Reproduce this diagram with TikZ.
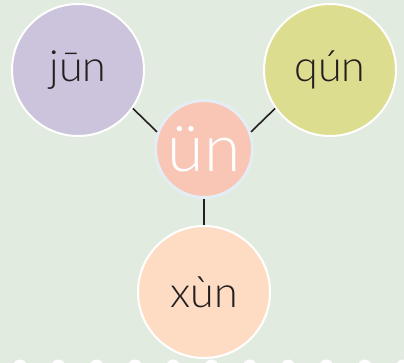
\documentclass[tikz,border=0pt]{standalone}
\usepackage{fontspec}
\setmainfont{Lato}[UprightFont=* Light]
\usetikzlibrary{positioning}
\definecolor{bgmint}{RGB}{225, 235, 223}
\definecolor{julilac}{RGB}{204, 195, 220}
\definecolor{qulime}{RGB}{221, 221, 143}
\definecolor{unsalmon}{RGB}{249, 198, 182}
\definecolor{unrim}{RGB}{227, 237, 243}
\definecolor{xupeach}{RGB}{254, 220, 195}
\definecolor{inkdark}{RGB}{35, 31, 32}

\tikzset{
    syllable/.style={circle, draw=white, line width=2pt, minimum size=132pt, inner sep=0pt,
        text=inkdark, font=\fontsize{43}{43}\selectfont},
    finalvowel/.style={circle, draw=unrim, line width=3pt, fill=unsalmon, minimum size=97pt,
        inner sep=0pt, text=white, font=\fontsize{66}{66}\selectfont},
    link/.style={inkdark, line width=1.6pt}
}

\begin{document}
\begin{tikzpicture}[x=1pt, y=-1pt]
    \fill[bgmint] (0,0) rectangle (404,363);
    \useasboundingbox (0,0) rectangle (404,363);

    % bottom scallops
    \begin{scope}
        \clip (0,0) rectangle (404,363);
        \foreach \k in {0,...,10}
            \fill[white] (20+38.3*\k, 366.5) circle (7pt);
    \end{scope}

    \node[finalvowel] (un) at (204,149) {\raisebox{-4pt}{ün}};
    \node[syllable, fill=julilac] (jun) at (78,70) {\raisebox{-3pt}{jūn}};
    \node[syllable, fill=qulime] (qun) at (330,70) {\raisebox{-3pt}{qún}};
    \node[syllable, fill=xupeach] (xun) at (204,292) {\raisebox{-3pt}{xùn}};

    \draw[link] (jun.-35) -- (un.160);
    \draw[link] (qun.215) -- (un.20);
    \draw[link] (un.south) -- (xun.north);
\end{tikzpicture}
\end{document}
